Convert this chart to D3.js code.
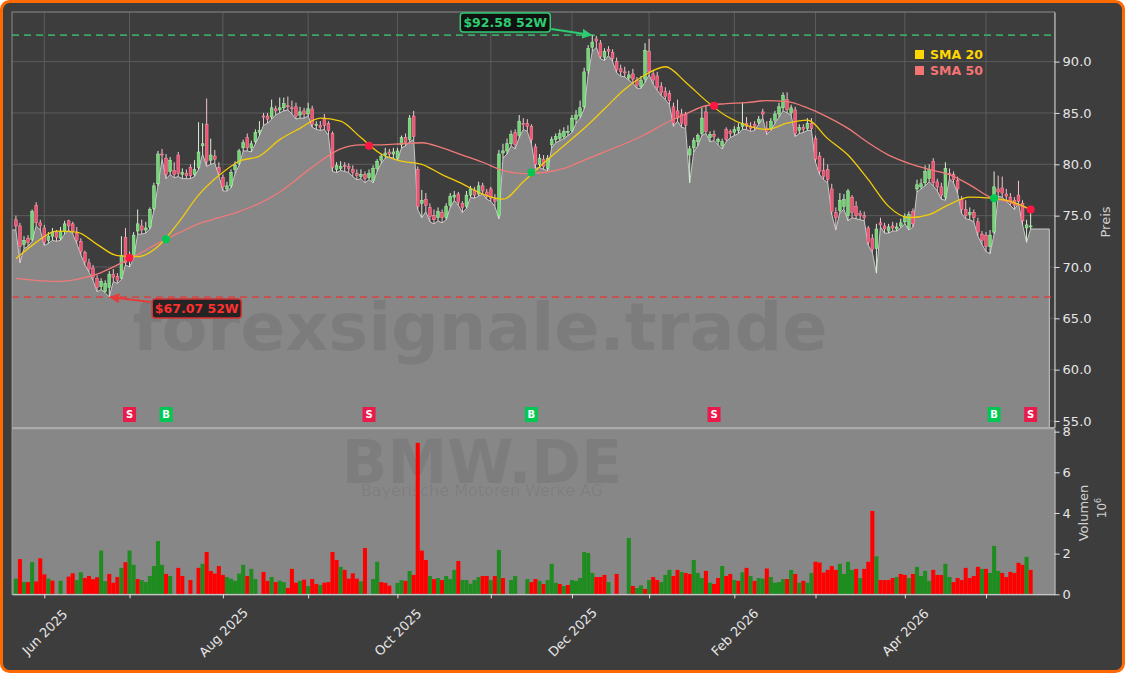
<!DOCTYPE html>
<meta charset="utf-8">
<script src="https://cdn.jsdelivr.net/npm/d3@7/dist/d3.min.js"></script>
<style>
body{margin:0;background:#fff;}
svg{display:block;font-family:"DejaVu Sans",sans-serif;}
</style>
<body>
<script>
// daily bars, index 0 = 22 May 2025 ... 250 = 15 May 2026 (trading days)
var opens=[74.6,74.0,72.2,72.8,72.7,76.0,74.3,73.8,72.6,73.0,
73.4,72.8,73.5,74.5,74.2,73.3,72.5,71.4,70.4,69.9,
68.9,68.1,67.6,68.0,69.3,69.1,68.9,72.9,70.6,71.0,
73.5,74.0,73.6,73.9,75.7,78.1,81.0,80.6,79.3,79.4,
80.9,79.0,79.1,79.7,79.0,79.7,81.8,83.9,80.4,80.8,
79.7,78.7,77.6,77.9,79.5,80.1,81.6,82.6,81.6,82.2,
83.1,84.7,84.7,84.6,85.4,85.3,85.5,85.7,85.5,85.6,
84.8,85.2,84.9,85.4,83.8,83.8,84.5,84.0,83.0,79.5,
79.6,79.9,79.8,79.5,79.1,78.8,79.0,78.7,78.4,79.6,
80.4,80.9,81.2,81.0,80.6,81.9,82.6,82.4,84.7,79.5,
76.2,76.6,75.8,75.0,74.8,75.3,74.8,76.0,76.8,77.1,
76.2,75.9,77.0,77.5,77.1,77.9,77.3,77.6,76.6,75.0,
81.1,81.3,82.0,83.1,82.8,84.0,84.0,83.7,81.7,80.0,
80.5,79.6,81.9,82.4,82.5,82.7,83.1,83.3,84.4,84.7,
85.6,89.1,91.4,92.2,91.8,90.4,91.2,90.9,90.0,89.3,
89.0,88.4,88.8,88.2,87.6,88.3,91.0,88.8,88.6,87.6,
87.1,86.9,85.6,85.2,84.9,84.9,80.9,81.6,82.2,83.0,
85.1,82.6,82.9,82.2,81.8,83.4,83.2,83.1,83.3,83.7,
84.0,83.7,83.9,84.1,85.1,83.5,83.5,84.3,84.9,85.5,
86.3,85.0,85.3,83.3,83.6,83.5,84.0,82.5,80.8,79.4,
79.5,77.6,75.3,75.5,75.9,75.0,76.8,75.9,75.2,75.0,
73.8,72.8,71.8,74.3,74.0,73.5,74.0,73.7,74.0,74.4,
73.8,75.4,77.6,77.8,78.2,78.6,80.3,78.3,77.8,76.8,
79.1,79.0,78.4,76.6,75.6,75.1,75.3,74.4,73.2,73.1,
72.0,73.4,77.6,77.7,77.1,76.8,76.5,77.0,76.2,73.8,
74.0];
var highs=[75.0,74.3,73.0,73.1,75.6,76.3,74.6,74.1,73.4,73.8,
73.6,73.9,74.5,74.6,74.4,73.9,72.8,71.6,70.8,70.2,
69.2,68.9,68.7,69.6,69.8,69.4,73.0,73.8,71.5,73.4,
75.6,74.6,74.4,75.8,78.2,81.3,81.5,81.0,80.7,80.2,
81.2,79.6,79.5,80.0,80.4,84.1,84.0,86.4,82.5,81.4,
80.2,79.0,78.3,79.5,80.3,81.5,82.4,83.0,82.3,83.4,
84.2,85.0,85.0,86.3,85.7,86.5,86.5,86.6,86.2,86.0,
85.6,85.5,86.0,85.7,84.2,84.2,84.9,84.2,83.2,80.2,
80.3,80.2,80.1,79.9,79.5,79.5,79.3,79.5,79.9,80.5,
81.0,81.6,81.5,81.6,81.6,82.8,83.0,84.8,85.2,79.8,
77.5,77.2,76.2,75.6,75.8,75.6,76.2,77.2,77.4,77.3,
76.4,77.4,77.9,77.8,78.3,78.2,77.6,77.8,77.1,81.4,
82.0,82.5,83.3,83.4,84.8,84.5,84.4,83.9,82.0,81.0,
80.9,80.9,82.7,83.0,83.4,83.6,83.8,84.8,85.3,86.2,
89.4,91.6,92.58,92.5,92.1,91.3,91.5,91.2,90.4,89.7,
89.5,89.1,89.3,88.5,88.6,91.8,92.2,89.2,89.0,88.0,
87.5,87.2,86.0,86.3,85.4,85.1,81.8,82.6,83.0,85.5,
85.7,83.2,83.3,82.6,82.5,83.6,83.4,83.7,84.0,86.0,
84.6,84.1,84.2,84.7,85.4,84.2,84.5,85.2,86.0,87.0,
87.0,85.8,85.6,83.9,83.9,84.5,84.5,82.8,81.2,80.6,
80.0,78.1,75.8,77.2,77.1,77.6,77.0,76.4,75.5,75.4,
74.0,73.2,74.2,74.8,74.3,74.2,74.4,74.3,74.7,75.2,
75.4,75.7,78.5,78.6,79.9,80.0,80.6,78.6,78.2,80.2,
79.6,79.3,78.8,76.9,76.5,75.8,75.6,74.8,73.5,73.4,
73.6,79.3,78.9,78.8,77.6,77.2,76.8,78.4,76.5,74.6,
75.9];
var lows=[73.6,70.4,71.8,72.0,72.5,74.0,73.6,72.1,72.3,72.6,
72.5,72.6,73.2,73.6,73.2,72.3,71.2,70.2,69.5,68.7,
67.6,67.8,67.5,67.07,68.6,68.4,68.8,70.2,70.0,70.8,
73.2,73.2,73.3,73.7,75.5,77.9,80.5,78.6,79.0,78.7,
78.8,78.6,78.6,78.6,78.8,79.5,81.0,79.8,80.0,80.1,
78.9,77.4,77.4,77.7,79.1,79.9,81.3,81.3,81.2,82.0,
82.8,83.8,84.0,84.4,84.8,85.0,85.2,85.3,84.9,84.4,
84.5,84.5,84.7,83.6,83.4,83.3,83.4,82.8,79.3,79.2,
79.4,79.3,79.2,78.8,78.5,78.6,78.2,78.5,78.2,79.3,
80.1,80.6,80.7,80.6,80.4,81.6,81.8,82.2,82.4,75.6,
74.8,75.4,74.4,74.2,74.5,74.3,74.6,75.8,76.5,76.0,
75.3,75.7,76.8,76.7,76.9,77.1,76.6,76.4,75.9,74.7,
80.6,81.0,81.8,81.5,82.6,83.4,83.2,82.0,79.6,79.7,
79.5,79.4,81.6,82.1,82.3,82.5,82.8,83.1,84.0,84.5,
85.4,88.8,91.0,91.4,90.3,90.1,90.6,90.0,88.9,88.6,
88.5,88.2,87.9,87.4,87.4,88.0,88.7,87.8,87.2,86.7,
86.3,85.8,83.7,84.2,83.6,83.5,78.2,81.2,81.8,82.8,
83.0,82.2,82.3,81.9,81.5,82.2,82.6,82.8,83.0,83.4,
83.4,83.2,83.3,83.9,84.5,82.9,83.3,84.0,84.6,85.2,
85.0,84.8,82.7,83.0,83.1,83.3,83.3,80.2,79.0,78.5,
78.2,75.1,73.6,75.3,75.6,74.5,74.8,74.7,74.6,74.5,
72.1,71.4,69.4,73.9,73.3,73.3,73.5,73.5,73.8,74.2,
73.6,73.9,77.3,77.6,77.9,78.3,77.9,77.4,76.6,76.5,
78.6,78.2,77.2,75.2,74.7,74.6,74.4,73.0,72.2,71.5,
71.3,73.2,76.9,76.8,76.4,76.0,75.6,76.2,74.1,72.4,
73.7];
var closes=[74.0,72.0,72.6,72.4,75.4,74.3,74.0,72.4,73.0,73.4,
72.9,73.5,74.2,74.0,73.5,72.6,71.5,70.5,69.8,69.0,
68.0,68.6,68.4,69.3,69.0,68.7,71.1,70.4,70.9,73.1,
74.2,73.6,73.8,75.6,77.9,81.0,80.9,79.0,80.4,79.0,
79.1,79.2,78.9,78.9,79.5,81.2,82.0,80.3,80.9,80.5,
79.2,77.8,77.9,79.2,79.9,81.3,82.1,81.6,82.0,83.1,
83.3,84.6,84.4,85.5,85.2,85.5,85.9,85.6,85.4,84.7,
85.1,84.9,85.4,83.9,83.9,83.6,83.8,83.3,79.7,79.9,
79.8,79.8,79.6,79.2,78.9,79.0,78.6,79.1,79.6,80.3,
80.8,81.1,81.0,81.2,81.3,82.6,82.1,84.5,82.7,75.9,
76.5,76.0,74.9,74.6,75.4,74.8,75.9,76.9,77.0,76.3,
75.8,77.0,77.6,77.0,77.9,77.4,76.9,76.7,76.4,81.0,
81.3,82.0,82.9,81.9,84.2,83.9,83.7,82.4,80.0,80.6,
79.8,80.6,82.4,82.7,83.0,83.2,83.2,84.5,84.8,85.5,
89.0,91.3,91.9,92.0,90.5,91.0,91.0,90.3,89.2,89.0,
88.9,88.7,88.3,87.7,88.2,91.1,89.0,88.2,87.5,87.0,
86.6,86.2,84.0,84.5,84.0,83.8,81.5,82.3,82.8,84.5,
83.2,82.9,82.7,82.4,82.2,82.4,83.0,83.4,83.6,84.0,
83.7,83.5,83.7,84.4,84.9,83.2,84.2,84.9,85.6,86.7,
85.3,85.5,83.0,83.6,83.4,84.0,83.5,80.5,79.3,78.8,
78.5,75.4,74.8,76.5,76.6,77.4,75.3,75.0,75.0,74.8,
72.4,71.7,73.7,74.1,73.7,73.9,73.8,73.9,74.3,74.9,
75.1,74.2,78.0,78.1,79.3,79.5,78.2,77.8,77.0,79.6,
79.0,78.5,77.6,75.6,75.0,75.3,74.8,73.4,72.6,72.0,
73.1,77.8,77.3,77.2,76.9,76.4,76.0,76.4,74.5,74.1,
74.0];
// volume in millions, and its colour (1 = green, 0 = red)
var volumes=[0.77,1.73,0.6,0.6,1.58,0.63,1.77,0.98,0.77,0.67,
0,0.67,0,0.87,1.03,0.7,1.08,0.8,0.9,0.74,
0.84,2.15,0.65,1.0,0.57,0.85,1.3,1.58,2.15,1.45,
0.75,0.7,0.6,0.9,1.39,2.62,1.45,1.0,0.9,0,
1.3,0.9,0,0.7,0,1.3,1.5,2.08,1.15,1.02,
1.39,0.95,0.85,0.77,0.66,1.02,1.45,0.9,1.25,0.75,
0,1.1,0.66,0.85,0.6,0.67,0.6,0.31,1.25,0.57,
0.66,0.72,0.41,0.75,0.51,0.46,0.57,0.6,2.08,1.69,
1.35,1.2,0.77,1.03,0.77,0.64,2.28,0,0.75,1.6,
0.6,0.56,0.43,0,0.56,0.7,0.66,1.15,0.95,7.45,
2.15,1.69,0.9,0.75,0.8,0.7,0.9,0.75,1.2,1.64,
0.7,0.7,0.52,0.7,0.85,0.9,0.9,0.7,0.9,2.18,
0.8,0,0.7,0.9,0,0,0.75,0.6,0.75,0.66,
0.51,0.7,1.5,0.57,0.51,0.41,0.46,0.7,0.66,0.8,
2.08,2.03,1.05,0.85,0.85,0.95,0.6,0,1.0,0,
0,2.77,0.41,0.31,0.44,0.26,0.7,0.85,0.7,0.6,
0.95,1.2,0.9,1.2,1.1,1.05,1.0,1.69,1.05,0.8,
1.15,0.57,0.51,0.8,1.39,0.9,1.0,0.7,0.66,1.08,
1.3,0.9,0.66,0.8,0.77,1.27,0.85,0.57,0.6,0.75,
0.75,1.2,1.0,0.57,0.66,0.57,1.05,1.6,1.56,1.07,
1.2,1.39,1.2,1.5,1.0,1.6,1.2,1.25,0.8,1.25,
1.6,4.1,1.87,0.7,0.7,0.7,0.8,0.85,1.0,0.95,
0.8,1.0,1.35,0.9,1.15,0.66,1.2,0.95,0.95,1.5,
0.85,0.6,0.8,0.7,1.3,0.8,0.9,1.35,1.25,1.25,
1.05,2.38,1.15,1.05,0.85,1.1,1.05,1.55,1.45,1.84,
1.2];
var volUp=[1,0,1,0,1,0,0,0,1,0, 0,1,0,0,0,1,1,0,0,0, 0,1,1,0,0,0,1,0,1,1, 0,1,1,1,1,1,1,0,1,0,
0,0,0,0,0,0,1,0,0,0, 0,0,1,1,1,1,1,0,1,1, 0,0,0,1,0,1,1,0,0,0, 1,0,1,0,0,1,0,0,0,0,
1,0,0,0,0,1,0,0,1,1, 0,0,0,0,1,1,0,1,0,0, 0,0,1,0,1,0,1,1,1,0, 1,1,1,1,1,0,0,1,0,1,
0,0,1,1,0,0,1,0,0,1, 0,1,1,1,0,1,0,1,1,1, 1,1,1,0,0,0,1,0,0,0, 0,1,0,1,1,0,1,0,0,1,
1,1,0,0,1,0,0,1,1,1, 0,1,0,0,1,0,0,1,0,1, 0,1,0,1,1,0,1,1,1,1, 0,1,0,1,0,1,1,0,0,0,
0,0,0,1,1,1,1,0,1,0, 0,0,1,0,0,0,0,1,0,0, 1,0,1,1,1,1,0,0,0,1, 1,0,0,0,0,0,0,0,1,0,
1,1,1,0,0,0,0,0,0,1, 0];

// moving averages, read every 5th bar
var smaIdx=[0,5,10,15,20,25,30,35,40,45,50,55,60,65,70,75,80,85,90,95,100,105,110,115,120,125,
130,135,140,145,150,155,160,165,170,175,180,185,190,195,200,205,210,215,220,225,230,235,240,245,250];
var sma20=[70.8,72.4,73.5,73.4,72.2,71.1,71.0,72.0,74.3,77.0,
78.9,80.3,80.8,82.4,83.5,84.5,84.2,82.6,81.0,80.3,
80.0,79.0,78.1,77.1,76.6,78.3,80.1,81.8,83.5,85.4,
87.3,88.7,89.5,88.0,86.2,84.7,83.8,83.4,84.0,84.3,
82.5,80.9,78.5,75.9,74.8,75.1,76.1,76.8,76.7,76.4,
75.6];
var sma50=[68.9,68.7,68.6,68.8,69.3,70.2,71.2,72.3,73.3,74.2,
74.8,75.4,76.2,77.3,78.8,80.3,81.5,81.9,81.9,82.0,
82.1,81.6,80.9,80.2,79.4,79.1,79.2,79.6,80.4,81.2,
82.0,82.9,84.0,84.9,85.7,85.9,86.0,86.2,86.1,85.5,
84.6,83.5,82.1,80.9,80.1,79.5,79.0,78.0,76.8,76.3,
75.6];

// crossovers
var sigIdx=[28,37,87,127,172,241,250];
var sigType=["S","B","S","B","S","B","S"];
var sigPrice=[70.9,72.7,81.8,79.2,85.7,76.7,75.6];

var hiIdx=142, hiVal=92.58, loIdx=23, loVal=67.07;

var priceTicks=[55,60,65,70,75,80,85,90];
var volTicks=[0,2,4,6,8];
var tickIdx=[7,28,51,72,94,117,137,156,177,197,219,239];
var tickLabels=["Jun 2025","","Aug 2025","","Oct 2025","","Dec 2025","","Feb 2026","","Apr 2026",""];

var W=1125,H=673;
var L=12,R=1054.6,T=12,PB=427.5,VT=429,VB=594.3;

var svg=d3.select("body").append("svg").attr("width",W).attr("height",H);

svg.append("rect").attr("x",1.5).attr("y",1.5).attr("width",W-3).attr("height",H-3)
  .attr("rx",8).attr("fill","#3d3d3d").attr("stroke","#ff6a00").attr("stroke-width",3);

var x=d3.scaleLinear().domain([-0.96,255.9]).range([L,R]);
var y=d3.scaleLinear().domain([54.37,94.83]).range([PB,T]);
var yv=d3.scaleLinear().domain([0,8.13]).range([VB,VT]);

var bars=closes.map(function(c,i){return {i:i,o:opens[i],h:highs[i],l:lows[i],c:c};});

svg.append("clipPath").attr("id","pc").append("rect")
  .attr("x",L).attr("y",T).attr("width",R-L).attr("height",PB-T);
var pg=svg.append("g").attr("clip-path","url(#pc)");

// grid
pg.selectAll(".hg").data(priceTicks).enter().append("line")
  .attr("x1",L).attr("x2",R).attr("y1",function(d){return y(d)}).attr("y2",function(d){return y(d)})
  .attr("stroke","#5c5c5c").attr("stroke-width",1);
pg.selectAll(".vg").data(tickIdx).enter().append("line")
  .attr("y1",T).attr("y2",PB).attr("x1",function(d){return x(d)}).attr("x2",function(d){return x(d)})
  .attr("stroke","#5c5c5c").attr("stroke-width",1);

// area under the lows
var areaPts=[{i:x.domain()[0],l:lows[0]}].concat(bars).concat([{i:254.6,l:lows[lows.length-1]}]);
var area=d3.area().x(function(d){return x(d.i)}).y0(PB).y1(function(d){return y(d.l)});
pg.append("path").datum(areaPts).attr("d",area)
  .attr("fill","#878787").attr("stroke","#c8c8c8").attr("stroke-width",1);

// watermark
pg.append("text").attr("x",480).attr("y",350).attr("text-anchor","middle")
  .attr("font-size",66).attr("font-weight","bold").attr("fill","#000").attr("fill-opacity",0.08)
  .attr("textLength",695).attr("lengthAdjust","spacingAndGlyphs")
  .text("forexsignale.trade");

// 52w lines
pg.append("line").attr("x1",L).attr("x2",R).attr("y1",y(hiVal)).attr("y2",y(hiVal))
  .attr("stroke","#3cb86a").attr("stroke-opacity",0.85).attr("stroke-width",1.8).attr("stroke-dasharray","7,5");
pg.append("line").attr("x1",L).attr("x2",R).attr("y1",y(loVal)).attr("y2",y(loVal))
  .attr("stroke","#dc4040").attr("stroke-opacity",0.85).attr("stroke-width",1.8).attr("stroke-dasharray","7,5");

// candles
var cg=pg.selectAll(".c").data(bars).enter().append("g");
cg.append("line")
  .attr("x1",function(d){return x(d.i)}).attr("x2",function(d){return x(d.i)})
  .attr("y1",function(d){return y(d.h)}).attr("y2",function(d){return y(d.l)})
  .attr("stroke",function(d){return d.c>=d.o?"#d6f2d6":"#f4c4cf"}).attr("stroke-width",1);
cg.append("rect")
  .attr("x",function(d){return x(d.i)-1.4}).attr("width",2.8)
  .attr("y",function(d){return y(Math.max(d.o,d.c))})
  .attr("height",function(d){return Math.max(1,Math.abs(y(d.o)-y(d.c)))})
  .attr("fill",function(d){return d.c>=d.o?"#72d672":"#f2506f"})
  .attr("stroke",function(d){return d.c>=d.o?"#b6efb6":"#f79ab0"}).attr("stroke-width",0.5);

// SMA lines
var smaLine=function(arr){
  return d3.line().curve(d3.curveMonotoneX)
    .x(function(d,k){return x(smaIdx[k])}).y(function(d){return y(d)})(arr);
};
pg.append("path").attr("d",smaLine(sma50)).attr("fill","none").attr("stroke","#f07a78").attr("stroke-width",1.3);
pg.append("path").attr("d",smaLine(sma20)).attr("fill","none").attr("stroke","#f2cc0c").attr("stroke-width",1.3);

// crossover dots and signal boxes
pg.selectAll(".dot").data(sigIdx).enter().append("circle")
  .attr("cx",function(d){return x(d)}).attr("cy",function(d,k){return y(sigPrice[k])}).attr("r",4)
  .attr("fill",function(d,k){return sigType[k]=="B"?"#00c853":"#ff1744"});
var sg=pg.selectAll(".sig").data(sigIdx).enter().append("g")
  .attr("transform",function(d){return "translate("+x(d)+","+(PB-13)+")"});
sg.append("rect").attr("x",-6.5).attr("y",-7.5).attr("width",13).attr("height",15)
  .attr("fill",function(d,k){return sigType[k]=="B"?"#00c853":"#ea1a4a"});
sg.append("text").attr("text-anchor","middle").attr("dy","0.36em").attr("font-size",10)
  .attr("font-weight","bold").attr("fill","#fff").text(function(d,k){return sigType[k]});

// frame of price panel
svg.append("rect").attr("x",L).attr("y",T).attr("width",R-L).attr("height",PB-T)
  .attr("fill","none").attr("stroke","#8c8c8c").attr("stroke-width",1);

// legend
var leg=[["SMA 20","#ffd700"],["SMA 50","#f47474"]];
leg.forEach(function(l,k){
  svg.append("rect").attr("x",915).attr("y",50+k*16).attr("width",9).attr("height",9).attr("fill",l[1]);
  svg.append("text").attr("x",930).attr("y",59+k*16).attr("font-size",12.5).attr("font-weight","bold")
    .attr("fill",l[1]).text(l[0]);
});

// 52w labels
var defs=svg.append("defs");
[["ag","#2ecc71"],["ar","#e83a3a"]].forEach(function(m){
  defs.append("marker").attr("id",m[0]).attr("viewBox","0 0 10 10").attr("refX",9).attr("refY",5)
    .attr("markerWidth",5).attr("markerHeight",5).attr("orient","auto")
    .append("path").attr("d","M0,0L10,5L0,10z").attr("fill",m[1]);
});
var hx=x(hiIdx), hy=y(hiVal);
svg.append("line").attr("x1",hx-41).attr("y1",hy-6).attr("x2",hx-1).attr("y2",hy)
  .attr("stroke","#2ecc71").attr("stroke-width",2).attr("marker-end","url(#ag)");
svg.append("rect").attr("x",hx-132).attr("y",hy-22).attr("width",90).attr("height",19).attr("rx",3)
  .attr("fill","#0c0c0c").attr("fill-opacity",0.9).attr("stroke","#2ecc71").attr("stroke-width",1.5);
svg.append("text").attr("x",hx-87).attr("y",hy-12.5).attr("dy","0.36em").attr("text-anchor","middle")
  .attr("font-size",12.5).attr("font-weight","bold").attr("fill","#2ecc71").text("$"+hiVal.toFixed(2)+" 52W");

var lx=x(loIdx), ly=y(loVal);
svg.append("line").attr("x1",lx+41).attr("y1",ly+5).attr("x2",lx+1).attr("y2",ly)
  .attr("stroke","#e83a3a").attr("stroke-width",2).attr("marker-end","url(#ar)");
svg.append("rect").attr("x",lx+43).attr("y",ly+2).attr("width",89).attr("height",19).attr("rx",3)
  .attr("fill","#1a1a1a").attr("fill-opacity",0.9).attr("stroke","#d93030").attr("stroke-width",1.5);
svg.append("text").attr("x",lx+87.5).attr("y",ly+11.5).attr("dy","0.36em").attr("text-anchor","middle")
  .attr("font-size",12.5).attr("font-weight","bold").attr("fill","#ff3030").text("$"+loVal.toFixed(2)+" 52W");

// volume panel
svg.append("rect").attr("x",L).attr("y",VT).attr("width",R-L).attr("height",VB-VT).attr("fill","#878787");
svg.append("text").attr("x",482).attr("y",483).attr("text-anchor","middle").attr("font-size",60)
  .attr("font-weight","bold").attr("fill","#000").attr("fill-opacity",0.07).text("BMW.DE");
svg.append("text").attr("x",482).attr("y",496).attr("text-anchor","middle").attr("font-size",16)
  .attr("fill","#000").attr("fill-opacity",0.07).text("Bayerische Motoren Werke AG");
var bw=x(1)-x(0);
svg.selectAll(".vb").data(volumes).enter().append("rect")
  .attr("x",function(d,i){return x(i)-bw/2}).attr("width",bw)
  .attr("y",function(d){return yv(d)}).attr("height",function(d){return yv(0)-yv(d)})
  .attr("fill",function(d,i){return volUp[i]?"#1f8c1f":"#ff0000"});
svg.append("rect").attr("x",L).attr("y",VT).attr("width",R-L).attr("height",VB-VT)
  .attr("fill","none").attr("stroke","#9a9a9a").attr("stroke-width",1);
svg.append("rect").attr("x",L).attr("y",PB-0.5).attr("width",R-L).attr("height",2).attr("fill","#ababab");

// axes
function styleAxis(g){
  g.select(".domain").attr("stroke","#bbbbbb");
  g.selectAll(".tick line").attr("stroke","#e0e0e0");
  g.selectAll(".tick text").attr("fill","#e6e6e6").attr("font-size",13).attr("font-family","DejaVu Sans");
}
var ay=svg.append("g").attr("transform","translate("+R+",0)")
  .call(d3.axisRight(y).tickValues(priceTicks).tickFormat(d3.format(".1f")).tickSize(5).tickSizeOuter(0));
styleAxis(ay);
var av=svg.append("g").attr("transform","translate("+R+",0)")
  .call(d3.axisRight(yv).tickValues(volTicks).tickFormat(d3.format("d")).tickSize(5).tickSizeOuter(0));
styleAxis(av);
var ax=svg.append("g").attr("transform","translate(0,"+VB+")")
  .call(d3.axisBottom(x).tickValues(tickIdx).tickFormat(function(d,k){return tickLabels[k]}).tickSize(4).tickSizeOuter(0));
styleAxis(ax);
ax.select(".domain").attr("stroke","#dddddd");
ax.selectAll(".tick text").attr("y",0).attr("dy","0.35em").attr("text-anchor","middle")
  .attr("transform","translate(0,38) rotate(-45)");

svg.append("text").attr("transform","translate(1110,222) rotate(-90)").attr("text-anchor","middle")
  .attr("font-size",13).attr("fill","#d2d2d2").text("Preis");
svg.append("text").attr("transform","translate(1088,513) rotate(-90)").attr("text-anchor","middle")
  .attr("font-size",13).attr("fill","#d2d2d2").text("Volumen");
var e6=svg.append("text").attr("transform","translate(1106,508) rotate(-90)").attr("text-anchor","middle")
  .attr("font-size",12).attr("fill","#d2d2d2");
e6.append("tspan").text("10");
e6.append("tspan").attr("dy",-5).attr("font-size",8).text("6");
</script>
</body>
